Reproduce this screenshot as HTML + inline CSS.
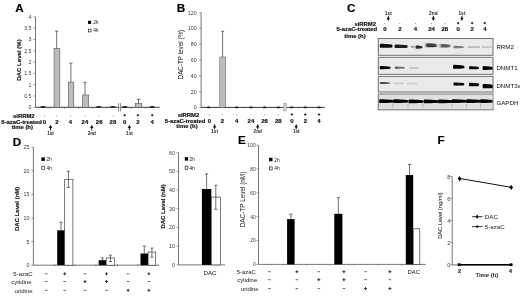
<!DOCTYPE html>
<html><head><meta charset="utf-8"><style>
html,body{margin:0;padding:0;background:#fff;}
body{width:520px;height:296px;overflow:hidden;}
svg{display:block;font-family:"Liberation Sans", sans-serif;filter:grayscale(1);}
</style></head><body>
<svg width="520" height="296" viewBox="0 0 520 296" font-family='"Liberation Sans", sans-serif'>
<rect width="520" height="296" fill="#fff"/>
<text transform="translate(19.50,11.69) scale(1.1,1)" x="0" y="0" font-size="10.6" text-anchor="middle" font-weight="bold" fill="#000" stroke="#000" stroke-width="0.15">A</text>
<line x1="35.50" y1="16.90" x2="35.50" y2="107.30" stroke="#555" stroke-width="0.8"/>
<line x1="33.50" y1="107.30" x2="35.50" y2="107.30" stroke="#555" stroke-width="0.6"/>
<text x="31.50" y="109.20" font-size="5.3" text-anchor="end" fill="#3a3a3a" >0</text>
<line x1="33.50" y1="96.00" x2="35.50" y2="96.00" stroke="#555" stroke-width="0.6"/>
<text x="31.50" y="97.90" font-size="5.3" text-anchor="end" fill="#3a3a3a" >0.5</text>
<line x1="33.50" y1="84.70" x2="35.50" y2="84.70" stroke="#555" stroke-width="0.6"/>
<text x="31.50" y="86.60" font-size="5.3" text-anchor="end" fill="#3a3a3a" >1</text>
<line x1="33.50" y1="73.40" x2="35.50" y2="73.40" stroke="#555" stroke-width="0.6"/>
<text x="31.50" y="75.30" font-size="5.3" text-anchor="end" fill="#3a3a3a" >1.5</text>
<line x1="33.50" y1="62.10" x2="35.50" y2="62.10" stroke="#555" stroke-width="0.6"/>
<text x="31.50" y="64.00" font-size="5.3" text-anchor="end" fill="#3a3a3a" >2</text>
<line x1="33.50" y1="50.80" x2="35.50" y2="50.80" stroke="#555" stroke-width="0.6"/>
<text x="31.50" y="52.70" font-size="5.3" text-anchor="end" fill="#3a3a3a" >2.5</text>
<line x1="33.50" y1="39.50" x2="35.50" y2="39.50" stroke="#555" stroke-width="0.6"/>
<text x="31.50" y="41.40" font-size="5.3" text-anchor="end" fill="#3a3a3a" >3</text>
<line x1="33.50" y1="28.20" x2="35.50" y2="28.20" stroke="#555" stroke-width="0.6"/>
<text x="31.50" y="30.10" font-size="5.3" text-anchor="end" fill="#3a3a3a" >3.5</text>
<line x1="33.50" y1="16.90" x2="35.50" y2="16.90" stroke="#555" stroke-width="0.6"/>
<text x="31.50" y="18.80" font-size="5.3" text-anchor="end" fill="#3a3a3a" >4</text>
<text transform="translate(18.40,60.00) rotate(-90)" x="0" y="2.18" font-size="6.1" text-anchor="middle" font-weight="bold" fill="#222" stroke="#222" stroke-width="0.18">DAC Level (%)</text>
<line x1="35.50" y1="107.30" x2="118.60" y2="107.30" stroke="#222" stroke-width="0.9"/>
<line x1="120.60" y1="107.30" x2="159.60" y2="107.30" stroke="#222" stroke-width="0.9"/>
<line x1="118.60" y1="103.20" x2="118.60" y2="111.40" stroke="#555" stroke-width="0.7"/>
<line x1="120.60" y1="103.20" x2="120.60" y2="111.40" stroke="#555" stroke-width="0.7"/>
<line x1="118.60" y1="107.30" x2="120.60" y2="107.30" stroke="#999" stroke-width="0.9"/>
<line x1="50.00" y1="107.30" x2="50.00" y2="108.90" stroke="#666" stroke-width="0.6"/>
<line x1="64.30" y1="107.30" x2="64.30" y2="108.90" stroke="#666" stroke-width="0.6"/>
<line x1="78.50" y1="107.30" x2="78.50" y2="108.90" stroke="#666" stroke-width="0.6"/>
<line x1="92.50" y1="107.30" x2="92.50" y2="108.90" stroke="#666" stroke-width="0.6"/>
<line x1="106.40" y1="107.30" x2="106.40" y2="108.90" stroke="#666" stroke-width="0.6"/>
<line x1="131.30" y1="107.30" x2="131.30" y2="108.90" stroke="#666" stroke-width="0.6"/>
<line x1="145.40" y1="107.30" x2="145.40" y2="108.90" stroke="#666" stroke-width="0.6"/>
<rect x="54.10" y="48.60" width="5.70" height="58.70" fill="#bcbcbc" stroke="#555" stroke-width="0.6"/>
<line x1="56.70" y1="31.10" x2="56.70" y2="48.60" stroke="#333" stroke-width="0.7"/>
<line x1="55.10" y1="31.10" x2="58.30" y2="31.10" stroke="#333" stroke-width="0.7"/>
<rect x="68.40" y="82.20" width="5.40" height="25.10" fill="#bcbcbc" stroke="#555" stroke-width="0.6"/>
<line x1="70.90" y1="63.20" x2="70.90" y2="82.20" stroke="#333" stroke-width="0.7"/>
<line x1="69.40" y1="63.20" x2="72.40" y2="63.20" stroke="#333" stroke-width="0.7"/>
<rect x="82.50" y="95.00" width="6.20" height="12.30" fill="#bcbcbc" stroke="#555" stroke-width="0.6"/>
<line x1="85.00" y1="82.40" x2="85.00" y2="95.00" stroke="#333" stroke-width="0.7"/>
<line x1="83.50" y1="82.40" x2="86.50" y2="82.40" stroke="#333" stroke-width="0.7"/>
<rect x="135.30" y="103.40" width="6.50" height="3.90" fill="#bcbcbc" stroke="#555" stroke-width="0.6"/>
<line x1="138.50" y1="99.30" x2="138.50" y2="103.40" stroke="#333" stroke-width="0.7"/>
<line x1="136.75" y1="99.30" x2="140.25" y2="99.30" stroke="#333" stroke-width="0.7"/>
<ellipse cx="43.00" cy="106.90" rx="2.75" ry="0.9" fill="#222"/>
<ellipse cx="98.80" cy="106.90" rx="2.75" ry="0.9" fill="#222"/>
<ellipse cx="112.90" cy="106.90" rx="2.75" ry="0.9" fill="#222"/>
<ellipse cx="124.70" cy="106.90" rx="2.75" ry="0.9" fill="#222"/>
<ellipse cx="152.20" cy="106.90" rx="2.75" ry="0.9" fill="#222"/>
<rect x="88.00" y="20.80" width="3.20" height="3.10" fill="#000" stroke="none" stroke-width="0.6"/>
<text x="93.20" y="24.02" font-size="4.8" text-anchor="start" fill="#222" >2h</text>
<rect x="88.35" y="29.20" width="2.70" height="2.70" fill="#fff" stroke="#333" stroke-width="0.75"/>
<text x="93.20" y="32.32" font-size="4.8" text-anchor="start" fill="#222" >4h</text>
<text x="34.60" y="118.11" font-size="5.9" text-anchor="end" font-weight="bold" fill="#111" stroke="#111" stroke-width="0.18" >siRRM2</text>
<text x="1.20" y="123.51" font-size="5.9" text-anchor="start" font-weight="bold" fill="#111" stroke="#111" stroke-width="0.18" >5-azaC-treated</text>
<text x="22.30" y="128.61" font-size="5.9" text-anchor="middle" font-weight="bold" fill="#111" stroke="#111" stroke-width="0.18" >time (h)</text>
<text x="44.50" y="123.75" font-size="6.0" text-anchor="middle" font-weight="bold" fill="#111" stroke="#111" stroke-width="0.18" >0</text>
<rect x="44.00" y="115.60" width="1" height="1" fill="#999"/>
<text x="56.80" y="123.75" font-size="6.0" text-anchor="middle" font-weight="bold" fill="#111" stroke="#111" stroke-width="0.18" >2</text>
<rect x="56.30" y="115.60" width="1" height="1" fill="#999"/>
<text x="70.50" y="123.75" font-size="6.0" text-anchor="middle" font-weight="bold" fill="#111" stroke="#111" stroke-width="0.18" >4</text>
<rect x="70.00" y="115.60" width="1" height="1" fill="#999"/>
<text x="84.90" y="123.75" font-size="6.0" text-anchor="middle" font-weight="bold" fill="#111" stroke="#111" stroke-width="0.18" >24</text>
<rect x="84.40" y="115.60" width="1" height="1" fill="#999"/>
<text x="99.20" y="123.75" font-size="6.0" text-anchor="middle" font-weight="bold" fill="#111" stroke="#111" stroke-width="0.18" >26</text>
<rect x="98.70" y="115.60" width="1" height="1" fill="#999"/>
<text x="112.90" y="123.75" font-size="6.0" text-anchor="middle" font-weight="bold" fill="#111" stroke="#111" stroke-width="0.18" >28</text>
<rect x="112.40" y="115.60" width="1" height="1" fill="#999"/>
<text x="124.70" y="123.75" font-size="6.0" text-anchor="middle" font-weight="bold" fill="#111" stroke="#111" stroke-width="0.18" >0</text>
<line x1="123.55" y1="115.20" x2="125.85" y2="115.20" stroke="#1a1a1a" stroke-width="1.0"/>
<line x1="124.70" y1="114.05" x2="124.70" y2="116.35" stroke="#1a1a1a" stroke-width="1.0"/>
<text x="137.90" y="123.75" font-size="6.0" text-anchor="middle" font-weight="bold" fill="#111" stroke="#111" stroke-width="0.18" >2</text>
<line x1="136.75" y1="115.20" x2="139.05" y2="115.20" stroke="#1a1a1a" stroke-width="1.0"/>
<line x1="137.90" y1="114.05" x2="137.90" y2="116.35" stroke="#1a1a1a" stroke-width="1.0"/>
<text x="152.20" y="123.75" font-size="6.0" text-anchor="middle" font-weight="bold" fill="#111" stroke="#111" stroke-width="0.18" >4</text>
<line x1="151.05" y1="115.20" x2="153.35" y2="115.20" stroke="#1a1a1a" stroke-width="1.0"/>
<line x1="152.20" y1="114.05" x2="152.20" y2="116.35" stroke="#1a1a1a" stroke-width="1.0"/>
<path d="M50.50,124.80 L48.80,128.10 L52.20,128.10 Z" fill="#111"/>
<line x1="50.50" y1="127.30" x2="50.50" y2="130.40" stroke="#111" stroke-width="1.0"/>
<text x="50.50" y="134.95" font-size="4.6" text-anchor="middle" font-weight="bold" fill="#222" >1st</text>
<path d="M91.80,124.80 L90.10,128.10 L93.50,128.10 Z" fill="#111"/>
<line x1="91.80" y1="127.30" x2="91.80" y2="130.40" stroke="#111" stroke-width="1.0"/>
<text x="91.80" y="134.95" font-size="4.6" text-anchor="middle" font-weight="bold" fill="#222" >2nd</text>
<path d="M129.40,124.80 L127.70,128.10 L131.10,128.10 Z" fill="#111"/>
<line x1="129.40" y1="127.30" x2="129.40" y2="130.40" stroke="#111" stroke-width="1.0"/>
<text x="129.40" y="134.95" font-size="4.6" text-anchor="middle" font-weight="bold" fill="#222" >1st</text>
<text transform="translate(181.00,11.79) scale(1.1,1)" x="0" y="0" font-size="10.6" text-anchor="middle" font-weight="bold" fill="#000" stroke="#000" stroke-width="0.15">B</text>
<line x1="201.10" y1="12.70" x2="201.10" y2="107.40" stroke="#555" stroke-width="0.8"/>
<line x1="199.10" y1="107.40" x2="201.10" y2="107.40" stroke="#555" stroke-width="0.6"/>
<text x="196.60" y="109.30" font-size="5.3" text-anchor="end" fill="#3a3a3a" >0</text>
<line x1="199.10" y1="91.62" x2="201.10" y2="91.62" stroke="#555" stroke-width="0.6"/>
<text x="196.60" y="93.51" font-size="5.3" text-anchor="end" fill="#3a3a3a" >20</text>
<line x1="199.10" y1="75.83" x2="201.10" y2="75.83" stroke="#555" stroke-width="0.6"/>
<text x="196.60" y="77.73" font-size="5.3" text-anchor="end" fill="#3a3a3a" >40</text>
<line x1="199.10" y1="60.05" x2="201.10" y2="60.05" stroke="#555" stroke-width="0.6"/>
<text x="196.60" y="61.95" font-size="5.3" text-anchor="end" fill="#3a3a3a" >60</text>
<line x1="199.10" y1="44.27" x2="201.10" y2="44.27" stroke="#555" stroke-width="0.6"/>
<text x="196.60" y="46.16" font-size="5.3" text-anchor="end" fill="#3a3a3a" >80</text>
<line x1="199.10" y1="28.48" x2="201.10" y2="28.48" stroke="#555" stroke-width="0.6"/>
<text x="196.60" y="30.38" font-size="5.3" text-anchor="end" fill="#3a3a3a" >100</text>
<line x1="199.10" y1="12.70" x2="201.10" y2="12.70" stroke="#555" stroke-width="0.6"/>
<text x="196.60" y="14.60" font-size="5.3" text-anchor="end" fill="#3a3a3a" >120</text>
<text transform="translate(180.80,54.60) rotate(-90)" x="0" y="2.26" font-size="6.3" text-anchor="middle" fill="#111">DAC-TP level (%)</text>
<line x1="201.10" y1="107.40" x2="283.50" y2="107.40" stroke="#222" stroke-width="0.9"/>
<line x1="286.30" y1="107.40" x2="324.80" y2="107.40" stroke="#222" stroke-width="0.9"/>
<rect x="283.60" y="103.40" width="2.60" height="7.60" fill="#ccc" stroke="#999" stroke-width="0.5"/>
<line x1="215.50" y1="107.40" x2="215.50" y2="108.80" stroke="#777" stroke-width="0.5"/>
<line x1="229.50" y1="107.40" x2="229.50" y2="108.80" stroke="#777" stroke-width="0.5"/>
<line x1="243.80" y1="107.40" x2="243.80" y2="108.80" stroke="#777" stroke-width="0.5"/>
<line x1="257.80" y1="107.40" x2="257.80" y2="108.80" stroke="#777" stroke-width="0.5"/>
<line x1="271.50" y1="107.40" x2="271.50" y2="108.80" stroke="#777" stroke-width="0.5"/>
<line x1="298.50" y1="107.40" x2="298.50" y2="108.80" stroke="#777" stroke-width="0.5"/>
<line x1="312.20" y1="107.40" x2="312.20" y2="108.80" stroke="#777" stroke-width="0.5"/>
<rect x="219.80" y="57.00" width="5.60" height="50.40" fill="#bcbcbc" stroke="#666" stroke-width="0.6"/>
<line x1="222.60" y1="31.30" x2="222.60" y2="57.00" stroke="#333" stroke-width="0.7"/>
<line x1="221.10" y1="31.30" x2="224.10" y2="31.30" stroke="#333" stroke-width="0.7"/>
<ellipse cx="208.60" cy="107.40" rx="1.9" ry="0.95" fill="#222"/>
<ellipse cx="236.70" cy="107.40" rx="1.9" ry="0.95" fill="#222"/>
<ellipse cx="250.90" cy="107.40" rx="1.9" ry="0.95" fill="#222"/>
<ellipse cx="264.60" cy="107.40" rx="1.9" ry="0.95" fill="#222"/>
<ellipse cx="278.40" cy="107.40" rx="1.9" ry="0.95" fill="#222"/>
<ellipse cx="291.80" cy="107.40" rx="1.9" ry="0.95" fill="#222"/>
<ellipse cx="305.30" cy="107.40" rx="1.9" ry="0.95" fill="#222"/>
<ellipse cx="319.00" cy="107.40" rx="1.9" ry="0.95" fill="#222"/>
<text x="199.30" y="117.11" font-size="5.9" text-anchor="end" font-weight="bold" fill="#111" stroke="#111" stroke-width="0.18" >siRRM2</text>
<text x="164.80" y="123.11" font-size="5.9" text-anchor="start" font-weight="bold" fill="#111" stroke="#111" stroke-width="0.18" >5-azaC-treated</text>
<text x="187.00" y="128.41" font-size="5.9" text-anchor="middle" font-weight="bold" fill="#111" stroke="#111" stroke-width="0.18" >time (h)</text>
<text x="209.40" y="123.15" font-size="6.0" text-anchor="middle" font-weight="bold" fill="#111" stroke="#111" stroke-width="0.18" >0</text>
<rect x="208.90" y="114.30" width="1" height="1" fill="#999"/>
<text x="222.30" y="123.15" font-size="6.0" text-anchor="middle" font-weight="bold" fill="#111" stroke="#111" stroke-width="0.18" >2</text>
<rect x="221.80" y="114.30" width="1" height="1" fill="#999"/>
<text x="236.70" y="123.15" font-size="6.0" text-anchor="middle" font-weight="bold" fill="#111" stroke="#111" stroke-width="0.18" >4</text>
<rect x="236.20" y="114.30" width="1" height="1" fill="#999"/>
<text x="250.90" y="123.15" font-size="6.0" text-anchor="middle" font-weight="bold" fill="#111" stroke="#111" stroke-width="0.18" >24</text>
<rect x="250.40" y="114.30" width="1" height="1" fill="#999"/>
<text x="264.60" y="123.15" font-size="6.0" text-anchor="middle" font-weight="bold" fill="#111" stroke="#111" stroke-width="0.18" >26</text>
<rect x="264.10" y="114.30" width="1" height="1" fill="#999"/>
<text x="278.30" y="123.15" font-size="6.0" text-anchor="middle" font-weight="bold" fill="#111" stroke="#111" stroke-width="0.18" >28</text>
<rect x="277.80" y="114.30" width="1" height="1" fill="#999"/>
<text x="291.80" y="123.15" font-size="6.0" text-anchor="middle" font-weight="bold" fill="#111" stroke="#111" stroke-width="0.18" >0</text>
<line x1="290.65" y1="114.50" x2="292.95" y2="114.50" stroke="#1a1a1a" stroke-width="1.0"/>
<line x1="291.80" y1="113.35" x2="291.80" y2="115.65" stroke="#1a1a1a" stroke-width="1.0"/>
<text x="305.30" y="123.15" font-size="6.0" text-anchor="middle" font-weight="bold" fill="#111" stroke="#111" stroke-width="0.18" >2</text>
<line x1="304.15" y1="114.50" x2="306.45" y2="114.50" stroke="#1a1a1a" stroke-width="1.0"/>
<line x1="305.30" y1="113.35" x2="305.30" y2="115.65" stroke="#1a1a1a" stroke-width="1.0"/>
<text x="319.00" y="123.15" font-size="6.0" text-anchor="middle" font-weight="bold" fill="#111" stroke="#111" stroke-width="0.18" >4</text>
<line x1="317.85" y1="114.50" x2="320.15" y2="114.50" stroke="#1a1a1a" stroke-width="1.0"/>
<line x1="319.00" y1="113.35" x2="319.00" y2="115.65" stroke="#1a1a1a" stroke-width="1.0"/>
<path d="M214.60,124.10 L212.90,127.40 L216.30,127.40 Z" fill="#111"/>
<line x1="214.60" y1="126.60" x2="214.60" y2="129.20" stroke="#111" stroke-width="1.0"/>
<text x="214.60" y="133.35" font-size="4.6" text-anchor="middle" font-weight="bold" fill="#222" >1st</text>
<path d="M257.70,124.10 L256.00,127.40 L259.40,127.40 Z" fill="#111"/>
<line x1="257.70" y1="126.60" x2="257.70" y2="129.20" stroke="#111" stroke-width="1.0"/>
<text x="257.70" y="133.35" font-size="4.6" text-anchor="middle" font-weight="bold" fill="#222" >2nd</text>
<path d="M296.20,124.10 L294.50,127.40 L297.90,127.40 Z" fill="#111"/>
<line x1="296.20" y1="126.60" x2="296.20" y2="129.20" stroke="#111" stroke-width="1.0"/>
<text x="296.20" y="133.35" font-size="4.6" text-anchor="middle" font-weight="bold" fill="#222" >1st</text>
<text transform="translate(351.10,12.09) scale(1.1,1)" x="0" y="0" font-size="10.6" text-anchor="middle" font-weight="bold" fill="#000" stroke="#000" stroke-width="0.15">C</text>
<text x="388.30" y="15.12" font-size="4.8" text-anchor="middle" font-weight="bold" fill="#222" >1st</text>
<path d="M388.30,21.00 L386.60,17.70 L390.00,17.70 Z" fill="#111"/>
<line x1="388.30" y1="15.80" x2="388.30" y2="18.50" stroke="#111" stroke-width="1.0"/>
<text x="433.30" y="15.12" font-size="4.8" text-anchor="middle" font-weight="bold" fill="#222" >2nd</text>
<path d="M433.30,21.00 L431.60,17.70 L435.00,17.70 Z" fill="#111"/>
<line x1="433.30" y1="15.80" x2="433.30" y2="18.50" stroke="#111" stroke-width="1.0"/>
<text x="461.90" y="15.12" font-size="4.8" text-anchor="middle" font-weight="bold" fill="#222" >1st</text>
<path d="M461.90,21.00 L460.20,17.70 L463.60,17.70 Z" fill="#111"/>
<line x1="461.90" y1="15.80" x2="461.90" y2="18.50" stroke="#111" stroke-width="1.0"/>
<text x="376.00" y="25.61" font-size="5.9" text-anchor="end" font-weight="bold" fill="#111" stroke="#111" stroke-width="0.18" >siRRM2</text>
<text x="336.60" y="31.41" font-size="5.9" text-anchor="start" font-weight="bold" fill="#111" stroke="#111" stroke-width="0.18" >5-azaC-treated</text>
<text x="355.00" y="37.61" font-size="5.9" text-anchor="middle" font-weight="bold" fill="#111" stroke="#111" stroke-width="0.18" >time (h)</text>
<text x="384.80" y="31.45" font-size="6.0" text-anchor="middle" font-weight="bold" fill="#111" stroke="#111" stroke-width="0.18" >0</text>
<rect x="384.30" y="23.00" width="1" height="1" fill="#999"/>
<text x="399.80" y="31.45" font-size="6.0" text-anchor="middle" font-weight="bold" fill="#111" stroke="#111" stroke-width="0.18" >2</text>
<rect x="399.30" y="23.00" width="1" height="1" fill="#999"/>
<text x="415.40" y="31.45" font-size="6.0" text-anchor="middle" font-weight="bold" fill="#111" stroke="#111" stroke-width="0.18" >4</text>
<rect x="414.90" y="23.00" width="1" height="1" fill="#999"/>
<text x="431.50" y="31.45" font-size="6.0" text-anchor="middle" font-weight="bold" fill="#111" stroke="#111" stroke-width="0.18" >24</text>
<rect x="431.00" y="23.00" width="1" height="1" fill="#999"/>
<text x="444.80" y="31.45" font-size="6.0" text-anchor="middle" font-weight="bold" fill="#111" stroke="#111" stroke-width="0.18" >28</text>
<rect x="444.30" y="23.00" width="1" height="1" fill="#999"/>
<text x="458.10" y="31.45" font-size="6.0" text-anchor="middle" font-weight="bold" fill="#111" stroke="#111" stroke-width="0.18" >0</text>
<line x1="456.95" y1="23.10" x2="459.25" y2="23.10" stroke="#1a1a1a" stroke-width="1.0"/>
<line x1="458.10" y1="21.95" x2="458.10" y2="24.25" stroke="#1a1a1a" stroke-width="1.0"/>
<text x="472.10" y="31.45" font-size="6.0" text-anchor="middle" font-weight="bold" fill="#111" stroke="#111" stroke-width="0.18" >2</text>
<line x1="470.95" y1="23.10" x2="473.25" y2="23.10" stroke="#1a1a1a" stroke-width="1.0"/>
<line x1="472.10" y1="21.95" x2="472.10" y2="24.25" stroke="#1a1a1a" stroke-width="1.0"/>
<text x="484.80" y="31.45" font-size="6.0" text-anchor="middle" font-weight="bold" fill="#111" stroke="#111" stroke-width="0.18" >4</text>
<line x1="483.65" y1="23.10" x2="485.95" y2="23.10" stroke="#1a1a1a" stroke-width="1.0"/>
<line x1="484.80" y1="21.95" x2="484.80" y2="24.25" stroke="#1a1a1a" stroke-width="1.0"/>
<defs>
<filter id="bl" x="-20%" y="-100%" width="140%" height="300%"><feGaussianBlur stdDeviation="0.7 0.5"/></filter>
<filter id="bl2" x="-20%" y="-100%" width="140%" height="300%"><feGaussianBlur stdDeviation="0.9 0.8"/></filter>
<filter id="bl3" x="-20%" y="-100%" width="140%" height="300%"><feGaussianBlur stdDeviation="0.8 0.65"/></filter>
</defs>
<rect x="378.30" y="38.50" width="114.70" height="16.80" fill="#eaeaea" stroke="#707070" stroke-width="1.0"/>
<rect x="378.30" y="57.30" width="114.70" height="17.10" fill="#eaeaea" stroke="#707070" stroke-width="1.0"/>
<rect x="378.30" y="76.40" width="114.70" height="15.60" fill="#eaeaea" stroke="#707070" stroke-width="1.0"/>
<rect x="378.30" y="94.00" width="114.70" height="15.80" fill="#eaeaea" stroke="#707070" stroke-width="1.0"/>
<path d="M380.20,43.80 C384.15,43.91 391.40,44.22 392.20,44.89 Q392.90,45.90 392.20,47.41 C389.60,47.75 383.50,48.00 380.10,47.79 Q379.10,45.90 380.20,43.80 Z" fill="#0e0e0e" filter="url(#bl)"/>
<path d="M395.00,44.60 C399.09,44.69 406.60,44.96 407.40,45.54 Q408.10,46.40 407.40,47.70 C404.80,47.98 398.42,48.20 394.90,48.02 Q393.90,46.40 395.00,44.60 Z" fill="#1e1e1e" filter="url(#bl)"/>
<rect x="410.80" y="45.80" width="4.00" height="2.00" rx="1.00" fill="#a0a0a0" filter="url(#bl)"/>
<path d="M416.00,45.40 C417.92,45.48 421.40,45.74 422.20,46.28 Q422.90,47.10 422.20,48.32 C419.60,48.60 417.56,48.80 415.90,48.63 Q414.90,47.10 416.00,45.40 Z" fill="#2a2a2a" filter="url(#bl)"/>
<path d="M426.20,43.20 C429.52,43.30 435.60,43.41 436.40,44.17 Q437.10,45.30 436.40,47.00 C433.80,47.38 428.96,47.40 426.10,47.19 Q425.10,45.30 426.20,43.20 Z" fill="#383838" filter="url(#bl3)"/>
<path d="M440.60,44.00 C443.57,44.09 449.00,44.18 449.80,44.83 Q450.50,45.80 449.80,47.26 C447.20,47.58 443.06,47.60 440.50,47.42 Q439.50,45.80 440.60,44.00 Z" fill="#585858" filter="url(#bl3)"/>
<path d="M453.90,45.70 C457.01,45.77 462.70,45.96 463.50,46.38 Q464.20,47.00 463.50,47.94 C460.90,48.14 456.48,48.30 453.80,48.17 Q452.80,47.00 453.90,45.70 Z" fill="#7c7c7c" filter="url(#bl)"/>
<rect x="467.70" y="46.30" width="12.30" height="1.80" rx="0.90" fill="#b8b8b8" filter="url(#bl)"/>
<rect x="481.70" y="46.30" width="10.10" height="1.80" rx="0.90" fill="#c2c2c2" filter="url(#bl)"/>
<path d="M380.20,65.90 C383.45,65.98 389.40,66.38 390.20,66.87 Q390.90,67.60 390.20,68.70 C387.60,68.95 382.90,69.30 380.10,69.13 Q379.10,67.60 380.20,65.90 Z" fill="#050505" filter="url(#bl)"/>
<path d="M395.20,66.60 C398.20,66.66 403.70,66.94 404.50,67.28 Q405.20,67.80 404.50,68.58 C401.90,68.75 397.69,69.00 395.10,68.88 Q394.10,67.80 395.20,66.60 Z" fill="#6a6a6a" filter="url(#bl)"/>
<rect x="408.80" y="66.90" width="10.10" height="1.80" rx="0.90" fill="#c4c4c4" filter="url(#bl)"/>
<path d="M453.50,64.80 C457.00,64.91 463.40,65.39 464.20,65.99 Q464.90,66.90 464.20,68.26 C461.60,68.56 456.41,69.00 453.40,68.79 Q452.40,66.90 453.50,64.80 Z" fill="#000" filter="url(#bl)"/>
<path d="M469.50,66.15 C472.44,66.23 477.80,66.48 478.60,67.01 Q479.30,67.80 478.60,68.99 C476.00,69.25 471.93,69.45 469.40,69.28 Q468.40,67.80 469.50,66.15 Z" fill="#080808" filter="url(#bl)"/>
<path d="M483.00,66.10 C486.04,66.20 491.60,66.66 492.40,67.24 Q493.10,68.10 492.40,69.40 C489.80,69.68 485.52,70.10 482.90,69.90 Q481.90,68.10 483.00,66.10 Z" fill="#050505" filter="url(#bl)"/>
<path d="M380.30,81.90 C383.27,81.95 388.70,82.12 389.50,82.47 Q390.20,83.00 389.50,83.79 C386.90,83.97 382.76,84.10 380.20,83.99 Q379.20,83.00 380.30,81.90 Z" fill="#484848" filter="url(#bl)"/>
<rect x="393.00" y="82.40" width="11.00" height="1.80" rx="0.90" fill="#d0d0d0" filter="url(#bl)"/>
<rect x="407.00" y="82.60" width="11.00" height="1.80" rx="0.90" fill="#d4d4d4" filter="url(#bl)"/>
<path d="M453.80,82.45 C457.12,82.53 463.20,82.70 464.00,83.26 Q464.70,84.10 464.00,85.36 C461.40,85.64 456.56,85.75 453.70,85.58 Q452.70,84.10 453.80,82.45 Z" fill="#0c0c0c" filter="url(#bl)"/>
<path d="M469.40,82.80 C472.44,82.89 478.00,83.07 478.80,83.68 Q479.50,84.60 478.80,85.98 C476.20,86.28 471.92,86.40 469.30,86.22 Q468.30,84.60 469.40,82.80 Z" fill="#0a0a0a" filter="url(#bl)"/>
<path d="M483.00,84.00 C486.04,84.11 491.60,84.22 492.40,85.01 Q493.10,86.20 492.40,87.98 C489.80,88.38 485.52,88.40 482.90,88.18 Q481.90,86.20 483.00,84.00 Z" fill="#000" filter="url(#bl)"/>
<rect x="379.00" y="103.40" width="113.50" height="5.20" fill="#dedede" stroke="none" stroke-width="0.6"/>
<rect x="379.00" y="95.00" width="113.50" height="4.00" fill="#e0e0e0" stroke="none" stroke-width="0.6"/>
<path d="M379.50,99.30 C384.22,99.39 392.90,99.68 393.70,100.29 Q394.40,101.20 393.70,102.57 C391.10,102.87 383.46,103.10 379.40,102.91 Q378.40,101.20 379.50,99.30 Z" fill="#000" filter="url(#bl)"/>
<path d="M393.60,99.30 C398.32,99.39 407.00,99.68 407.80,100.29 Q408.50,101.20 407.80,102.57 C405.20,102.87 397.56,103.10 393.50,102.91 Q392.50,101.20 393.60,99.30 Z" fill="#000" filter="url(#bl)"/>
<path d="M408.80,99.60 C413.52,99.69 422.20,99.98 423.00,100.59 Q423.70,101.50 423.00,102.87 C420.40,103.17 412.76,103.40 408.70,103.21 Q407.70,101.50 408.80,99.60 Z" fill="#000" filter="url(#bl)"/>
<path d="M423.90,99.60 C428.62,99.69 437.30,99.98 438.10,100.59 Q438.80,101.50 438.10,102.87 C435.50,103.17 427.86,103.40 423.80,103.21 Q422.80,101.50 423.90,99.60 Z" fill="#000" filter="url(#bl)"/>
<path d="M438.40,99.60 C443.12,99.69 451.80,99.98 452.60,100.59 Q453.30,101.50 452.60,102.87 C450.00,103.17 442.36,103.40 438.30,103.21 Q437.30,101.50 438.40,99.60 Z" fill="#000" filter="url(#bl)"/>
<path d="M452.20,99.30 C456.92,99.39 465.60,99.68 466.40,100.29 Q467.10,101.20 466.40,102.57 C463.80,102.87 456.16,103.10 452.10,102.91 Q451.10,101.20 452.20,99.30 Z" fill="#000" filter="url(#bl)"/>
<path d="M466.60,99.30 C471.32,99.39 480.00,99.68 480.80,100.29 Q481.50,101.20 480.80,102.57 C478.20,102.87 470.56,103.10 466.50,102.91 Q465.50,101.20 466.60,99.30 Z" fill="#000" filter="url(#bl)"/>
<path d="M480.60,99.30 C484.41,99.39 491.40,99.68 492.20,100.29 Q492.90,101.20 492.20,102.57 C489.60,102.87 483.78,103.10 480.50,102.91 Q479.50,101.20 480.60,99.30 Z" fill="#000" filter="url(#bl)"/>
<line x1="392.90" y1="103.50" x2="392.90" y2="107.50" stroke="#9a9a9a" stroke-width="0.6"/>
<line x1="408.00" y1="103.50" x2="408.00" y2="107.50" stroke="#9a9a9a" stroke-width="0.6"/>
<line x1="423.00" y1="103.50" x2="423.00" y2="107.50" stroke="#9a9a9a" stroke-width="0.6"/>
<line x1="452.00" y1="103.50" x2="452.00" y2="107.50" stroke="#9a9a9a" stroke-width="0.6"/>
<line x1="466.50" y1="103.50" x2="466.50" y2="107.50" stroke="#9a9a9a" stroke-width="0.6"/>
<line x1="480.50" y1="103.50" x2="480.50" y2="107.50" stroke="#9a9a9a" stroke-width="0.6"/>
<text x="496.40" y="48.72" font-size="6.2" text-anchor="start" fill="#111" >RRM2</text>
<text x="496.40" y="70.02" font-size="6.2" text-anchor="start" fill="#111" >DNMT1</text>
<text x="496.40" y="87.82" font-size="6.2" text-anchor="start" fill="#111" >DNMT3a</text>
<text x="496.40" y="105.02" font-size="6.2" text-anchor="start" fill="#111" >GAPDH</text>
<text transform="translate(16.90,145.99) scale(1.1,1)" x="0" y="0" font-size="10.6" text-anchor="middle" font-weight="bold" fill="#000" stroke="#000" stroke-width="0.15">D</text>
<line x1="33.40" y1="147.20" x2="33.40" y2="265.20" stroke="#555" stroke-width="0.8"/>
<line x1="31.40" y1="265.20" x2="33.40" y2="265.20" stroke="#555" stroke-width="0.6"/>
<text x="29.40" y="267.13" font-size="5.4" text-anchor="end" fill="#3a3a3a" >0</text>
<line x1="31.40" y1="241.60" x2="33.40" y2="241.60" stroke="#555" stroke-width="0.6"/>
<text x="29.40" y="243.53" font-size="5.4" text-anchor="end" fill="#3a3a3a" >5</text>
<line x1="31.40" y1="218.00" x2="33.40" y2="218.00" stroke="#555" stroke-width="0.6"/>
<text x="29.40" y="219.93" font-size="5.4" text-anchor="end" fill="#3a3a3a" >10</text>
<line x1="31.40" y1="194.40" x2="33.40" y2="194.40" stroke="#555" stroke-width="0.6"/>
<text x="29.40" y="196.33" font-size="5.4" text-anchor="end" fill="#3a3a3a" >15</text>
<line x1="31.40" y1="170.80" x2="33.40" y2="170.80" stroke="#555" stroke-width="0.6"/>
<text x="29.40" y="172.73" font-size="5.4" text-anchor="end" fill="#3a3a3a" >20</text>
<line x1="31.40" y1="147.20" x2="33.40" y2="147.20" stroke="#555" stroke-width="0.6"/>
<text x="29.40" y="149.13" font-size="5.4" text-anchor="end" fill="#3a3a3a" >25</text>
<text transform="translate(16.90,208.80) rotate(-90)" x="0" y="2.15" font-size="6.0" text-anchor="middle" font-weight="bold" fill="#222" stroke="#222" stroke-width="0.18">DAC Level (nM)</text>
<line x1="33.40" y1="265.20" x2="159.40" y2="265.20" stroke="#666" stroke-width="0.9"/>
<rect x="57.20" y="230.30" width="7.50" height="34.90" fill="#000" stroke="none" stroke-width="0.6"/>
<line x1="61.00" y1="222.20" x2="61.00" y2="230.30" stroke="#333" stroke-width="0.7"/>
<line x1="59.50" y1="222.20" x2="62.50" y2="222.20" stroke="#333" stroke-width="0.7"/>
<rect x="64.70" y="179.30" width="8.20" height="85.90" fill="#fff" stroke="#333" stroke-width="0.65"/>
<line x1="68.40" y1="171.20" x2="68.40" y2="187.40" stroke="#333" stroke-width="0.7"/>
<line x1="66.70" y1="171.20" x2="70.10" y2="171.20" stroke="#333" stroke-width="0.7"/>
<line x1="66.70" y1="187.40" x2="70.10" y2="187.40" stroke="#333" stroke-width="0.7"/>
<rect x="98.70" y="260.20" width="7.50" height="5.00" fill="#000" stroke="none" stroke-width="0.6"/>
<line x1="102.40" y1="258.00" x2="102.40" y2="260.20" stroke="#333" stroke-width="0.7"/>
<line x1="100.90" y1="258.00" x2="103.90" y2="258.00" stroke="#333" stroke-width="0.7"/>
<rect x="106.20" y="257.90" width="8.40" height="7.30" fill="#fff" stroke="#333" stroke-width="0.65"/>
<line x1="110.40" y1="255.10" x2="110.40" y2="261.50" stroke="#333" stroke-width="0.7"/>
<line x1="108.90" y1="255.10" x2="111.90" y2="255.10" stroke="#333" stroke-width="0.7"/>
<line x1="108.90" y1="261.50" x2="111.90" y2="261.50" stroke="#333" stroke-width="0.7"/>
<rect x="140.50" y="253.50" width="7.60" height="11.70" fill="#000" stroke="none" stroke-width="0.6"/>
<line x1="144.30" y1="246.10" x2="144.30" y2="253.50" stroke="#333" stroke-width="0.7"/>
<line x1="142.80" y1="246.10" x2="145.80" y2="246.10" stroke="#333" stroke-width="0.7"/>
<rect x="148.10" y="252.10" width="7.60" height="13.10" fill="#fff" stroke="#333" stroke-width="0.65"/>
<line x1="151.90" y1="248.10" x2="151.90" y2="257.20" stroke="#333" stroke-width="0.7"/>
<line x1="150.40" y1="248.10" x2="153.40" y2="248.10" stroke="#333" stroke-width="0.7"/>
<line x1="150.40" y1="257.20" x2="153.40" y2="257.20" stroke="#333" stroke-width="0.7"/>
<rect x="41.40" y="157.40" width="3.40" height="3.50" fill="#000" stroke="none" stroke-width="0.6"/>
<line x1="54.60" y1="264.00" x2="54.60" y2="266.20" stroke="#666" stroke-width="0.6"/>
<line x1="75.20" y1="264.00" x2="75.20" y2="266.20" stroke="#666" stroke-width="0.6"/>
<line x1="96.00" y1="264.00" x2="96.00" y2="266.20" stroke="#666" stroke-width="0.6"/>
<line x1="117.60" y1="264.00" x2="117.60" y2="266.20" stroke="#666" stroke-width="0.6"/>
<line x1="137.80" y1="264.00" x2="137.80" y2="266.20" stroke="#666" stroke-width="0.6"/>
<text x="46.50" y="161.22" font-size="4.8" text-anchor="start" fill="#222" >2h</text>
<rect x="41.80" y="166.50" width="2.80" height="3.10" fill="#fff" stroke="#333" stroke-width="0.75"/>
<text x="46.50" y="169.72" font-size="4.8" text-anchor="start" fill="#222" >4h</text>
<text x="13.30" y="276.15" font-size="6.0" text-anchor="start" fill="#222" >5-azaC</text>
<text x="11.30" y="284.45" font-size="6.0" text-anchor="start" fill="#222" >cytidine</text>
<text x="14.60" y="293.05" font-size="6.0" text-anchor="start" fill="#222" >uridine</text>
<line x1="44.90" y1="273.80" x2="47.50" y2="273.80" stroke="#444" stroke-width="0.8"/>
<line x1="44.90" y1="281.50" x2="47.50" y2="281.50" stroke="#444" stroke-width="0.8"/>
<line x1="44.90" y1="290.30" x2="47.50" y2="290.30" stroke="#444" stroke-width="0.8"/>
<line x1="63.20" y1="273.80" x2="66.20" y2="273.80" stroke="#222" stroke-width="0.9"/>
<line x1="64.70" y1="272.30" x2="64.70" y2="275.30" stroke="#222" stroke-width="0.9"/>
<line x1="63.40" y1="281.50" x2="66.00" y2="281.50" stroke="#444" stroke-width="0.8"/>
<line x1="63.40" y1="290.30" x2="66.00" y2="290.30" stroke="#444" stroke-width="0.8"/>
<line x1="83.70" y1="273.80" x2="86.30" y2="273.80" stroke="#444" stroke-width="0.8"/>
<line x1="83.50" y1="281.50" x2="86.50" y2="281.50" stroke="#222" stroke-width="0.9"/>
<line x1="85.00" y1="280.00" x2="85.00" y2="283.00" stroke="#222" stroke-width="0.9"/>
<line x1="83.70" y1="290.30" x2="86.30" y2="290.30" stroke="#444" stroke-width="0.8"/>
<line x1="105.00" y1="273.80" x2="108.00" y2="273.80" stroke="#222" stroke-width="0.9"/>
<line x1="106.50" y1="272.30" x2="106.50" y2="275.30" stroke="#222" stroke-width="0.9"/>
<line x1="105.00" y1="281.50" x2="108.00" y2="281.50" stroke="#222" stroke-width="0.9"/>
<line x1="106.50" y1="280.00" x2="106.50" y2="283.00" stroke="#222" stroke-width="0.9"/>
<line x1="105.20" y1="290.30" x2="107.80" y2="290.30" stroke="#444" stroke-width="0.8"/>
<line x1="126.80" y1="273.80" x2="129.40" y2="273.80" stroke="#444" stroke-width="0.8"/>
<line x1="126.80" y1="281.50" x2="129.40" y2="281.50" stroke="#444" stroke-width="0.8"/>
<line x1="126.60" y1="290.30" x2="129.60" y2="290.30" stroke="#222" stroke-width="0.9"/>
<line x1="128.10" y1="288.80" x2="128.10" y2="291.80" stroke="#222" stroke-width="0.9"/>
<line x1="147.40" y1="273.80" x2="150.40" y2="273.80" stroke="#222" stroke-width="0.9"/>
<line x1="148.90" y1="272.30" x2="148.90" y2="275.30" stroke="#222" stroke-width="0.9"/>
<line x1="147.60" y1="281.50" x2="150.20" y2="281.50" stroke="#444" stroke-width="0.8"/>
<line x1="147.40" y1="290.30" x2="150.40" y2="290.30" stroke="#222" stroke-width="0.9"/>
<line x1="148.90" y1="288.80" x2="148.90" y2="291.80" stroke="#222" stroke-width="0.9"/>
<line x1="178.50" y1="152.60" x2="178.50" y2="264.90" stroke="#555" stroke-width="0.8"/>
<line x1="176.50" y1="264.90" x2="178.50" y2="264.90" stroke="#555" stroke-width="0.6"/>
<text x="175.00" y="266.83" font-size="5.4" text-anchor="end" fill="#3a3a3a" >0</text>
<line x1="176.50" y1="246.18" x2="178.50" y2="246.18" stroke="#555" stroke-width="0.6"/>
<text x="175.00" y="248.12" font-size="5.4" text-anchor="end" fill="#3a3a3a" >10</text>
<line x1="176.50" y1="227.47" x2="178.50" y2="227.47" stroke="#555" stroke-width="0.6"/>
<text x="175.00" y="229.40" font-size="5.4" text-anchor="end" fill="#3a3a3a" >20</text>
<line x1="176.50" y1="208.75" x2="178.50" y2="208.75" stroke="#555" stroke-width="0.6"/>
<text x="175.00" y="210.68" font-size="5.4" text-anchor="end" fill="#3a3a3a" >30</text>
<line x1="176.50" y1="190.03" x2="178.50" y2="190.03" stroke="#555" stroke-width="0.6"/>
<text x="175.00" y="191.97" font-size="5.4" text-anchor="end" fill="#3a3a3a" >40</text>
<line x1="176.50" y1="171.32" x2="178.50" y2="171.32" stroke="#555" stroke-width="0.6"/>
<text x="175.00" y="173.25" font-size="5.4" text-anchor="end" fill="#3a3a3a" >50</text>
<line x1="176.50" y1="152.60" x2="178.50" y2="152.60" stroke="#555" stroke-width="0.6"/>
<text x="175.00" y="154.53" font-size="5.4" text-anchor="end" fill="#3a3a3a" >60</text>
<text transform="translate(163.30,206.40) rotate(-90)" x="0" y="2.15" font-size="6.0" text-anchor="middle" font-weight="bold" fill="#222" stroke="#222" stroke-width="0.18">DAC Level (nM)</text>
<line x1="178.50" y1="264.90" x2="225.00" y2="264.90" stroke="#666" stroke-width="0.9"/>
<rect x="201.90" y="189.00" width="9.40" height="75.90" fill="#000" stroke="none" stroke-width="0.6"/>
<line x1="206.60" y1="173.80" x2="206.60" y2="189.00" stroke="#333" stroke-width="0.7"/>
<line x1="205.10" y1="173.80" x2="208.10" y2="173.80" stroke="#333" stroke-width="0.7"/>
<rect x="211.30" y="197.10" width="9.30" height="67.80" fill="#fff" stroke="#333" stroke-width="0.65"/>
<line x1="215.80" y1="185.30" x2="215.80" y2="209.30" stroke="#333" stroke-width="0.7"/>
<line x1="214.30" y1="185.30" x2="217.30" y2="185.30" stroke="#333" stroke-width="0.7"/>
<line x1="214.30" y1="209.30" x2="217.30" y2="209.30" stroke="#333" stroke-width="0.7"/>
<rect x="184.80" y="157.20" width="3.30" height="3.40" fill="#000" stroke="none" stroke-width="0.6"/>
<text x="189.60" y="160.62" font-size="4.8" text-anchor="start" fill="#222" >2h</text>
<rect x="185.20" y="166.20" width="2.70" height="3.10" fill="#fff" stroke="#333" stroke-width="0.75"/>
<text x="189.60" y="169.52" font-size="4.8" text-anchor="start" fill="#222" >4h</text>
<text x="210.00" y="274.82" font-size="6.2" text-anchor="middle" fill="#111" >DAC</text>
<text transform="translate(241.80,144.29) scale(1.1,1)" x="0" y="0" font-size="10.6" text-anchor="middle" font-weight="bold" fill="#000" stroke="#000" stroke-width="0.15">E</text>
<line x1="258.50" y1="145.20" x2="258.50" y2="264.40" stroke="#555" stroke-width="0.8"/>
<line x1="256.50" y1="264.40" x2="258.50" y2="264.40" stroke="#555" stroke-width="0.6"/>
<text x="255.70" y="266.19" font-size="5.0" text-anchor="end" fill="#3a3a3a" >0</text>
<line x1="256.50" y1="240.56" x2="258.50" y2="240.56" stroke="#555" stroke-width="0.6"/>
<text x="255.70" y="242.35" font-size="5.0" text-anchor="end" fill="#3a3a3a" >20</text>
<line x1="256.50" y1="216.72" x2="258.50" y2="216.72" stroke="#555" stroke-width="0.6"/>
<text x="255.70" y="218.51" font-size="5.0" text-anchor="end" fill="#3a3a3a" >40</text>
<line x1="256.50" y1="192.88" x2="258.50" y2="192.88" stroke="#555" stroke-width="0.6"/>
<text x="255.70" y="194.67" font-size="5.0" text-anchor="end" fill="#3a3a3a" >60</text>
<line x1="256.50" y1="169.04" x2="258.50" y2="169.04" stroke="#555" stroke-width="0.6"/>
<text x="255.70" y="170.83" font-size="5.0" text-anchor="end" fill="#3a3a3a" >80</text>
<line x1="256.50" y1="145.20" x2="258.50" y2="145.20" stroke="#555" stroke-width="0.6"/>
<text x="255.70" y="146.99" font-size="5.0" text-anchor="end" fill="#3a3a3a" >100</text>
<text transform="translate(242.60,199.50) rotate(-90)" x="0" y="2.29" font-size="6.4" text-anchor="middle" fill="#111">DAC-TP Level (nM)</text>
<line x1="258.50" y1="264.40" x2="425.80" y2="264.40" stroke="#666" stroke-width="0.9"/>
<rect x="287.10" y="219.10" width="7.50" height="45.30" fill="#000" stroke="none" stroke-width="0.6"/>
<line x1="290.90" y1="214.10" x2="290.90" y2="219.10" stroke="#333" stroke-width="0.7"/>
<line x1="289.40" y1="214.10" x2="292.40" y2="214.10" stroke="#333" stroke-width="0.7"/>
<rect x="334.30" y="213.80" width="8.10" height="50.60" fill="#000" stroke="none" stroke-width="0.6"/>
<line x1="338.30" y1="197.60" x2="338.30" y2="213.80" stroke="#333" stroke-width="0.7"/>
<line x1="336.80" y1="197.60" x2="339.80" y2="197.60" stroke="#333" stroke-width="0.7"/>
<rect x="405.80" y="175.00" width="7.40" height="89.40" fill="#000" stroke="none" stroke-width="0.6"/>
<line x1="409.50" y1="164.50" x2="409.50" y2="175.00" stroke="#333" stroke-width="0.7"/>
<line x1="408.00" y1="164.50" x2="411.00" y2="164.50" stroke="#333" stroke-width="0.7"/>
<rect x="413.20" y="228.80" width="6.60" height="35.60" fill="#fff" stroke="#333" stroke-width="0.65"/>
<rect x="269.10" y="157.80" width="3.40" height="3.50" fill="#000" stroke="none" stroke-width="0.6"/>
<line x1="282.60" y1="264.00" x2="282.60" y2="265.80" stroke="#777" stroke-width="0.6"/>
<line x1="306.50" y1="264.00" x2="306.50" y2="265.80" stroke="#777" stroke-width="0.6"/>
<line x1="330.30" y1="264.00" x2="330.30" y2="265.80" stroke="#777" stroke-width="0.6"/>
<line x1="354.00" y1="264.00" x2="354.00" y2="265.80" stroke="#777" stroke-width="0.6"/>
<line x1="378.00" y1="264.00" x2="378.00" y2="265.80" stroke="#777" stroke-width="0.6"/>
<line x1="402.00" y1="264.00" x2="402.00" y2="265.80" stroke="#777" stroke-width="0.6"/>
<text x="274.30" y="161.72" font-size="4.8" text-anchor="start" fill="#222" >2h</text>
<rect x="269.50" y="166.90" width="2.70" height="3.00" fill="#fff" stroke="#333" stroke-width="0.75"/>
<text x="274.30" y="170.02" font-size="4.8" text-anchor="start" fill="#222" >4h</text>
<text x="236.80" y="274.21" font-size="5.9" text-anchor="start" fill="#222" >5-azaC</text>
<text x="237.20" y="282.31" font-size="5.9" text-anchor="start" fill="#222" >cytidine</text>
<text x="240.90" y="291.21" font-size="5.9" text-anchor="start" fill="#222" >uridine</text>
<line x1="268.10" y1="271.70" x2="270.70" y2="271.70" stroke="#444" stroke-width="0.8"/>
<line x1="268.10" y1="279.70" x2="270.70" y2="279.70" stroke="#444" stroke-width="0.8"/>
<line x1="268.10" y1="288.60" x2="270.70" y2="288.60" stroke="#444" stroke-width="0.8"/>
<line x1="295.40" y1="271.70" x2="298.40" y2="271.70" stroke="#222" stroke-width="0.9"/>
<line x1="296.90" y1="270.20" x2="296.90" y2="273.20" stroke="#222" stroke-width="0.9"/>
<line x1="295.60" y1="279.70" x2="298.20" y2="279.70" stroke="#444" stroke-width="0.8"/>
<line x1="295.60" y1="288.60" x2="298.20" y2="288.60" stroke="#444" stroke-width="0.8"/>
<line x1="317.50" y1="271.70" x2="320.10" y2="271.70" stroke="#444" stroke-width="0.8"/>
<line x1="317.30" y1="279.70" x2="320.30" y2="279.70" stroke="#222" stroke-width="0.9"/>
<line x1="318.80" y1="278.20" x2="318.80" y2="281.20" stroke="#222" stroke-width="0.9"/>
<line x1="317.50" y1="288.60" x2="320.10" y2="288.60" stroke="#444" stroke-width="0.8"/>
<line x1="342.40" y1="271.70" x2="345.40" y2="271.70" stroke="#222" stroke-width="0.9"/>
<line x1="343.90" y1="270.20" x2="343.90" y2="273.20" stroke="#222" stroke-width="0.9"/>
<line x1="342.40" y1="279.70" x2="345.40" y2="279.70" stroke="#222" stroke-width="0.9"/>
<line x1="343.90" y1="278.20" x2="343.90" y2="281.20" stroke="#222" stroke-width="0.9"/>
<line x1="342.60" y1="288.60" x2="345.20" y2="288.60" stroke="#444" stroke-width="0.8"/>
<line x1="364.20" y1="271.70" x2="366.80" y2="271.70" stroke="#444" stroke-width="0.8"/>
<line x1="364.20" y1="279.70" x2="366.80" y2="279.70" stroke="#444" stroke-width="0.8"/>
<line x1="364.00" y1="288.60" x2="367.00" y2="288.60" stroke="#222" stroke-width="0.9"/>
<line x1="365.50" y1="287.10" x2="365.50" y2="290.10" stroke="#222" stroke-width="0.9"/>
<line x1="388.40" y1="271.70" x2="391.40" y2="271.70" stroke="#222" stroke-width="0.9"/>
<line x1="389.90" y1="270.20" x2="389.90" y2="273.20" stroke="#222" stroke-width="0.9"/>
<line x1="388.60" y1="279.70" x2="391.20" y2="279.70" stroke="#444" stroke-width="0.8"/>
<line x1="388.40" y1="288.60" x2="391.40" y2="288.60" stroke="#222" stroke-width="0.9"/>
<line x1="389.90" y1="287.10" x2="389.90" y2="290.10" stroke="#222" stroke-width="0.9"/>
<text x="413.70" y="273.71" font-size="5.9" text-anchor="middle" fill="#111" >DAC</text>
<text transform="translate(441.00,144.29) scale(1.1,1)" x="0" y="0" font-size="10.6" text-anchor="middle" font-weight="bold" fill="#000" stroke="#000" stroke-width="0.15">F</text>
<line x1="452.20" y1="176.50" x2="452.20" y2="264.90" stroke="#555" stroke-width="0.8"/>
<line x1="450.20" y1="264.90" x2="452.20" y2="264.90" stroke="#555" stroke-width="0.6"/>
<text x="450.30" y="266.90" font-size="5.6" text-anchor="end" fill="#3a3a3a" >0</text>
<line x1="450.20" y1="242.80" x2="452.20" y2="242.80" stroke="#555" stroke-width="0.6"/>
<text x="450.30" y="244.80" font-size="5.6" text-anchor="end" fill="#3a3a3a" >2</text>
<line x1="450.20" y1="220.70" x2="452.20" y2="220.70" stroke="#555" stroke-width="0.6"/>
<text x="450.30" y="222.70" font-size="5.6" text-anchor="end" fill="#3a3a3a" >4</text>
<line x1="450.20" y1="198.60" x2="452.20" y2="198.60" stroke="#555" stroke-width="0.6"/>
<text x="450.30" y="200.60" font-size="5.6" text-anchor="end" fill="#3a3a3a" >6</text>
<line x1="450.20" y1="176.50" x2="452.20" y2="176.50" stroke="#555" stroke-width="0.6"/>
<text x="450.30" y="178.50" font-size="5.6" text-anchor="end" fill="#3a3a3a" >8</text>
<text transform="translate(439.80,215.60) rotate(-90)" x="0" y="2.04" font-size="5.7" text-anchor="middle" fill="#000">DAC Level (ng/ml)</text>
<line x1="452.20" y1="264.90" x2="513.00" y2="264.90" stroke="#444" stroke-width="0.8"/>
<line x1="459.90" y1="178.50" x2="511.20" y2="187.30" stroke="#111" stroke-width="1.0"/>
<path d="M459.60,176.10 L461.40,178.80 L459.60,181.50 L457.80,178.80 Z" fill="#000"/>
<path d="M511.20,184.70 L513.00,187.40 L511.20,190.10 L509.40,187.40 Z" fill="#000"/>
<line x1="459.20" y1="264.70" x2="511.00" y2="264.70" stroke="#000" stroke-width="1.4"/>
<rect x="457.80" y="263.30" width="2.80" height="2.80" fill="#000" stroke="none" stroke-width="0.6"/>
<rect x="509.60" y="263.30" width="2.80" height="2.80" fill="#000" stroke="none" stroke-width="0.6"/>
<line x1="472.20" y1="216.70" x2="482.40" y2="216.70" stroke="#111" stroke-width="0.9"/>
<path d="M477.20,214.60 L478.60,216.70 L477.20,218.80 L475.80,216.70 Z" fill="#000"/>
<line x1="472.20" y1="226.60" x2="482.40" y2="226.60" stroke="#111" stroke-width="0.9"/>
<circle cx="477.2" cy="226.6" r="1.2" fill="#000"/>
<text x="484.80" y="219.02" font-size="6.2" text-anchor="start" fill="#222" >DAC</text>
<text x="484.80" y="228.82" font-size="6.2" text-anchor="start" fill="#222" >5-azaC</text>
<text x="459.50" y="273.23" font-size="5.4" text-anchor="middle" font-weight="bold" fill="#222" stroke="#222" stroke-width="0.18" >2</text>
<text x="510.60" y="273.23" font-size="5.4" text-anchor="middle" font-weight="bold" fill="#222" stroke="#222" stroke-width="0.18" >4</text>
<text x="475.40" y="276.71" font-size="5.9" text-anchor="start" font-weight="bold" fill="#222" >Time (h)</text>
</svg>
</body></html>
